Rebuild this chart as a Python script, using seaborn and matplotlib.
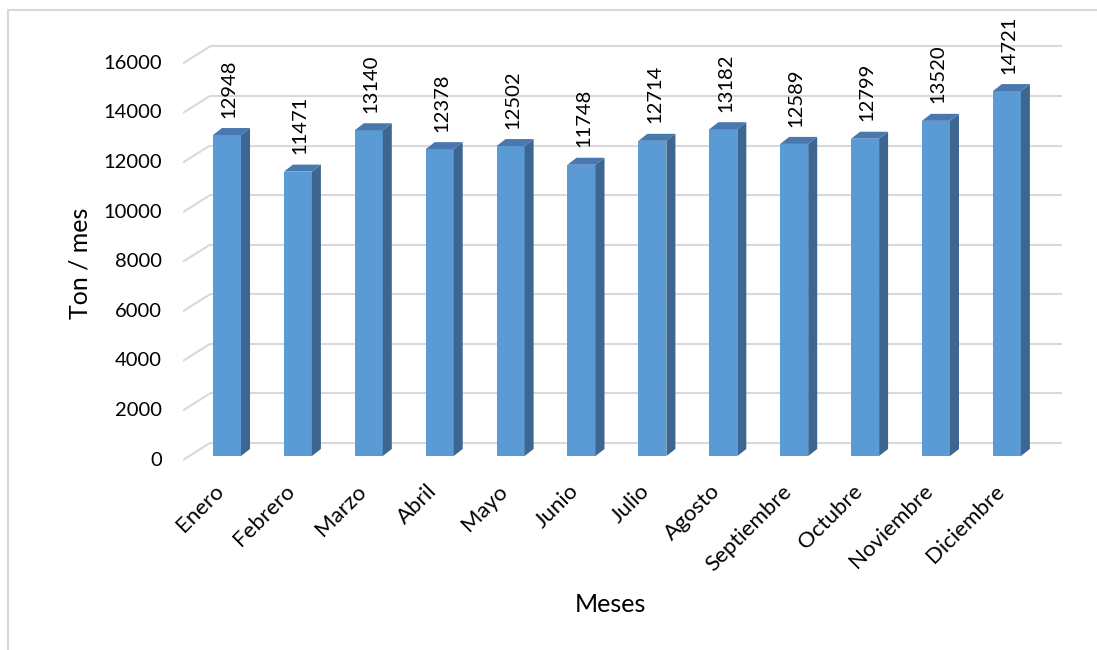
import numpy as np
import pandas as pd
import matplotlib
matplotlib.use("Agg")
import matplotlib.pyplot as plt
from matplotlib.patches import Polygon
from matplotlib.lines import Line2D
import seaborn as sns

# Monthly tonnage
meses = ["Enero", "Febrero", "Marzo", "Abril", "Mayo", "Junio", "Julio",
         "Agosto", "Septiembre", "Octubre", "Noviembre", "Diciembre"]
toneladas = [12948, 11471, 13140, 12378, 12502, 11748, 12714,
             13182, 12589, 12799, 13520, 14721]
y_ticks = [0, 2000, 4000, 6000, 8000, 10000, 12000, 14000, 16000]

sns.set_theme(style="white")
plt.rcParams["font.family"] = ["Lato", "DejaVu Sans"]

W, H = 1097, 650
fig = plt.figure(figsize=(W / 100, H / 100), dpi=100)
fig.patch.set_facecolor("white")

# axes placed in pixel units
ax_l, ax_r, ax_t, ax_b = 183, 1062, 40, 470
ax = fig.add_axes([ax_l / W, 1 - ax_b / H, (ax_r - ax_l) / W, (ax_b - ax_t) / H])

df = pd.DataFrame({"mes": meses, "ton": toneladas})
FRONT = "#5B9BD5"
SIDE = "#3D6790"
TOP = "#4878AE"
sns.barplot(data=df, x="mes", y="ton", order=meses, color=FRONT, saturation=1,
            width=0.395, linewidth=0, ax=ax, zorder=3)

# scales: category spacing and value->pixel ratio
px_x = 70.9
px_y = 0.02479
base_px = 456  # pixel row of the bar base
x0 = (ax_l - 227) / px_x
x1 = x0 + (ax_r - ax_l) / px_x
y0 = (base_px - ax_b) / px_y
y1 = (base_px - ax_t) / px_y
ax.set_xlim(x0, x1)
ax.set_ylim(y0, y1)
ax.set_axis_off()

# 3D depth of the bars
bdx = 9 / px_x
bdy = 7 / px_y
for p in ax.patches[:len(meses)]:
    xl = p.get_x()
    xr = xl + p.get_width()
    h = p.get_height()
    ax.add_patch(Polygon([(xr, 0), (xr + bdx, bdy), (xr + bdx, h + bdy), (xr, h)],
                         closed=True, facecolor=SIDE, edgecolor="none", zorder=3))
    ax.add_patch(Polygon([(xl, h), (xl + bdx, h + bdy), (xr + bdx, h + bdy), (xr, h)],
                         closed=True, facecolor=TOP, edgecolor="none", zorder=3))

# back wall gridlines and floor diagonals
GRID = "#D9D9D9"
back_dy = 13 / px_y
front_dy = -4 / px_y
back_x = (210 - 227) / px_x
for v in y_ticks:
    ax.plot([back_x, x1], [v + back_dy, v + back_dy], color=GRID, lw=1.5,
            zorder=1, solid_capstyle="butt")
    ax.plot([x0, back_x], [v + front_dy, v + back_dy], color=GRID, lw=1.5,
            zorder=1, solid_capstyle="butt")
    ax.text(x0 - 21 / px_x, v + front_dy, f"{v}", ha="right", va="center",
            fontsize=14.5, color="black", clip_on=False)

# value labels above the bars
for i, v in enumerate(toneladas):
    ax.annotate(f"{v}", xy=(i, v), xytext=(1.5, 12.5), textcoords="offset points",
                rotation=90, ha="center", va="bottom", fontsize=14.5, color="black",
                annotation_clip=False)

# rotated month labels
lab_y = (base_px - 481) / px_y
for i, m in enumerate(meses):
    ax.text(i - 13 / px_x, lab_y, m, rotation=45, rotation_mode="anchor",
            ha="right", va="top", fontsize=16, color="black", clip_on=False)

fig.text(80 / W, 1 - 263 / H, "Ton / mes", rotation=90, ha="center", va="center",
         fontsize=18, color="black")
fig.text(610 / W, 1 - 605 / H, "Meses", ha="center", va="center",
         fontsize=18, color="black")

# chart area border
fig.add_artist(Line2D([8 / W, 8 / W], [1 - 10 / H, -0.05], transform=fig.transFigure,
                      color="#D9D9D9", lw=1.5))
fig.add_artist(Line2D([8 / W, 1.05], [1 - 10 / H, 1 - 10 / H], transform=fig.transFigure,
                      color="#D9D9D9", lw=1.5))

fig.savefig("out.png", dpi=100, facecolor="white")
